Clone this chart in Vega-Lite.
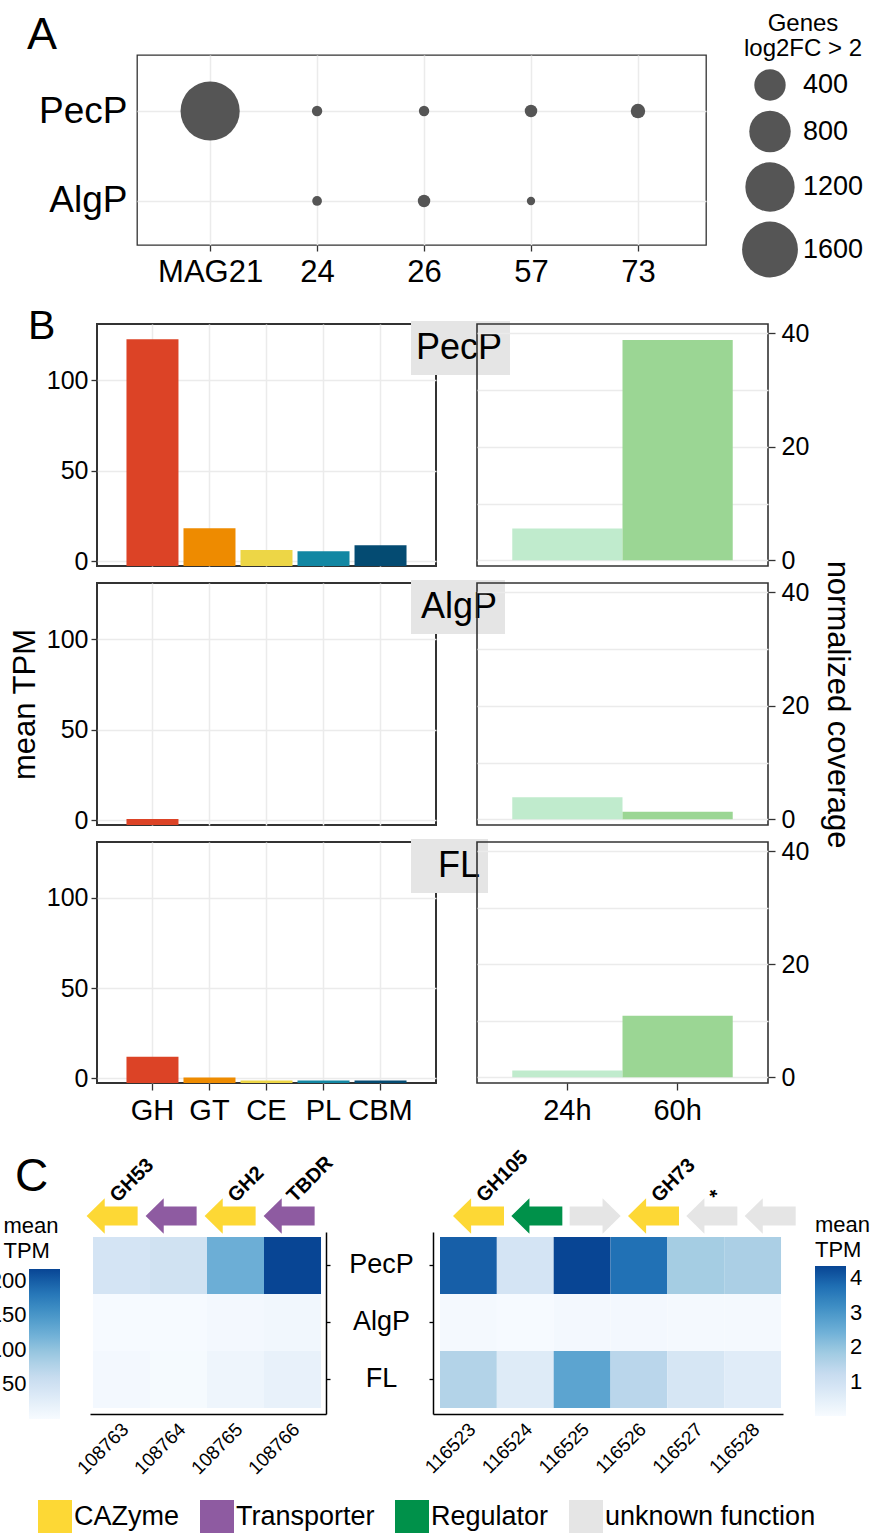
{
 "$schema": "https://vega.github.io/schema/vega-lite/v6.json",
 "padding": {"left": -13, "top": 5, "right": 0, "bottom": 0},
 "background": "white",
 "config": {
  "font": "Liberation Sans",
  "view": {"stroke": null},
  "axis": {"labelFont": "Liberation Sans", "titleFont": "Liberation Sans", "labelColor": "#000000", "titleColor": "#000000", "gridColor": "#EBEBEB", "gridWidth": 1.5, "tickColor": "#333333", "tickWidth": 1.3, "domainColor": "#000000", "titleFontWeight": "normal"},
  "legend": {"labelFont": "Liberation Sans", "titleFont": "Liberation Sans", "labelColor": "#000000", "titleColor": "#000000"},
  "title": {"font": "Liberation Sans", "color": "#000000", "fontWeight": "normal"},
  "text": {"font": "Liberation Sans"}
 },
 "datasets": {
  "bubbles": [
   {"mag": "MAG21", "substrate": "PecP", "genes": 1830},
   {"mag": "24", "substrate": "PecP", "genes": 33},
   {"mag": "26", "substrate": "PecP", "genes": 33},
   {"mag": "57", "substrate": "PecP", "genes": 42},
   {"mag": "73", "substrate": "PecP", "genes": 56},
   {"mag": "24", "substrate": "AlgP", "genes": 32},
   {"mag": "26", "substrate": "AlgP", "genes": 42},
   {"mag": "57", "substrate": "AlgP", "genes": 30}
  ],
  "tpm": [
   {"substrate": "PecP", "class": "GH", "tpm": 122.6},
   {"substrate": "PecP", "class": "GT", "tpm": 18.2},
   {"substrate": "PecP", "class": "CE", "tpm": 6.1},
   {"substrate": "PecP", "class": "PL", "tpm": 5.5},
   {"substrate": "PecP", "class": "CBM", "tpm": 8.8},
   {"substrate": "AlgP", "class": "GH", "tpm": 0.6},
   {"substrate": "FL", "class": "GH", "tpm": 11.8},
   {"substrate": "FL", "class": "GT", "tpm": 0.3},
   {"substrate": "FL", "class": "CE", "tpm": -1.3},
   {"substrate": "FL", "class": "PL", "tpm": -1.3},
   {"substrate": "FL", "class": "CBM", "tpm": -1.3}
  ],
  "cov": [
   {"substrate": "PecP", "time": "24h", "cov": 5.6},
   {"substrate": "PecP", "time": "60h", "cov": 38.8},
   {"substrate": "AlgP", "time": "24h", "cov": 3.9},
   {"substrate": "AlgP", "time": "60h", "cov": 1.35},
   {"substrate": "FL", "time": "24h", "cov": 1.2},
   {"substrate": "FL", "time": "60h", "cov": 10.9}
  ],
  "heat": [
   {"block": "L", "gene": "108763", "condition": "PecP", "tpm": 44},
   {"block": "L", "gene": "108764", "condition": "PecP", "tpm": 49},
   {"block": "L", "gene": "108765", "condition": "PecP", "tpm": 123},
   {"block": "L", "gene": "108766", "condition": "PecP", "tpm": 216},
   {"block": "L", "gene": "108763", "condition": "AlgP", "tpm": 1.3},
   {"block": "L", "gene": "108764", "condition": "AlgP", "tpm": 1.3},
   {"block": "L", "gene": "108765", "condition": "AlgP", "tpm": 5},
   {"block": "L", "gene": "108766", "condition": "AlgP", "tpm": 7.3},
   {"block": "L", "gene": "108763", "condition": "FL", "tpm": 5},
   {"block": "L", "gene": "108764", "condition": "FL", "tpm": 2.4},
   {"block": "L", "gene": "108765", "condition": "FL", "tpm": 11},
   {"block": "L", "gene": "108766", "condition": "FL", "tpm": 18.6},
   {"block": "R", "gene": "116523", "condition": "PecP", "tpm": 3.99},
   {"block": "R", "gene": "116524", "condition": "PecP", "tpm": 0.89},
   {"block": "R", "gene": "116525", "condition": "PecP", "tpm": 4.36},
   {"block": "R", "gene": "116526", "condition": "PecP", "tpm": 3.74},
   {"block": "R", "gene": "116527", "condition": "PecP", "tpm": 1.76},
   {"block": "R", "gene": "116528", "condition": "PecP", "tpm": 1.67},
   {"block": "R", "gene": "116523", "condition": "AlgP", "tpm": 0.07},
   {"block": "R", "gene": "116524", "condition": "AlgP", "tpm": 0.03},
   {"block": "R", "gene": "116525", "condition": "AlgP", "tpm": 0.1},
   {"block": "R", "gene": "116526", "condition": "AlgP", "tpm": 0.1},
   {"block": "R", "gene": "116527", "condition": "AlgP", "tpm": 0.07},
   {"block": "R", "gene": "116528", "condition": "AlgP", "tpm": 0.07},
   {"block": "R", "gene": "116523", "condition": "FL", "tpm": 1.54},
   {"block": "R", "gene": "116524", "condition": "FL", "tpm": 0.62},
   {"block": "R", "gene": "116525", "condition": "FL", "tpm": 2.72},
   {"block": "R", "gene": "116526", "condition": "FL", "tpm": 1.43},
   {"block": "R", "gene": "116527", "condition": "FL", "tpm": 0.83},
   {"block": "R", "gene": "116528", "condition": "FL", "tpm": 0.57}
  ],
  "genes": [
   {"block": "L", "gene": "108763", "func": "CAZyme", "strand": "-", "label": "GH53"},
   {"block": "L", "gene": "108764", "func": "Transporter", "strand": "-", "label": ""},
   {"block": "L", "gene": "108765", "func": "CAZyme", "strand": "-", "label": "GH2"},
   {"block": "L", "gene": "108766", "func": "Transporter", "strand": "-", "label": "TBDR"},
   {"block": "R", "gene": "116523", "func": "CAZyme", "strand": "-", "label": "GH105"},
   {"block": "R", "gene": "116524", "func": "Regulator", "strand": "-", "label": ""},
   {"block": "R", "gene": "116525", "func": "unknown function", "strand": "+", "label": ""},
   {"block": "R", "gene": "116526", "func": "CAZyme", "strand": "-", "label": "GH73"},
   {"block": "R", "gene": "116527", "func": "unknown function", "strand": "-", "label": "*"},
   {"block": "R", "gene": "116528", "func": "unknown function", "strand": "-", "label": ""}
  ]
 },
 "spacing": 0,
 "resolve": {
  "scale": {"x": "independent", "y": "independent", "color": "independent", "opacity": "independent", "size": "independent", "shape": "independent"},
  "legend": {"color": "independent", "opacity": "independent", "size": "independent", "shape": "independent"}
 },
 "vconcat": [
  {
   "columns": 2, "spacing": 0, "bounds": "flush",
   "resolve": {
    "scale": {"x": "independent", "y": "independent", "color": "independent", "opacity": "independent", "size": "independent", "shape": "independent"},
    "legend": {"color": "independent", "opacity": "independent", "size": "independent", "shape": "independent"}
   },
   "concat": [
    {"width": 150, "height": 50, "data": {"values": []}, "mark": "point"},
    {"width": 1, "height": 1, "data": {"values": []}, "mark": "point"},
    {"width": 150, "height": 240, "data": {"values": []}, "mark": "point",
     "title": {"text": "A", "anchor": "start", "frame": "group", "dx": 40, "offset": -39, "baseline": "alphabetic", "fontSize": 45}},
    {
     "width": 569, "height": 190,
     "view": {"stroke": "#333333", "strokeWidth": 1.3},
     "data": {"name": "bubbles"},
     "mark": {"type": "circle", "opacity": 1, "color": "#555555"},
     "encoding": {
      "x": {"field": "mag", "type": "nominal", "scale": {"type": "point", "domain": ["MAG21", "24", "26", "57", "73"], "padding": 0.66, "align": 0.518},
            "axis": {"title": null, "labelFontSize": 31, "tickSize": 6, "labelPadding": 6, "grid": true, "domain": false, "labelAngle": 0}},
      "y": {"field": "substrate", "type": "nominal", "scale": {"type": "point", "domain": ["PecP", "AlgP"], "padding": 0.556, "align": 0.56},
            "axis": {"title": null, "labelFontSize": 37, "ticks": false, "labelPadding": 10, "grid": true, "domain": false}},
      "size": {"field": "genes", "type": "quantitative",
               "scale": {"zero": false, "nice": false, "domain": [30, 33, 42, 56, 100, 200, 400, 800, 1200, 1600, 1830], "range": [69, 108, 156, 209, 337, 573, 984, 1720, 2428, 3117, 3505]},
               "legend": {"title": ["Genes", "log2FC > 2"], "orient": "none", "legendX": 605, "legendY": -43, "values": [400, 800, 1200, 1600], "format": "d",
                          "titleFontSize": 24, "titleFontWeight": "normal", "titleLineHeight": 25, "titleAnchor": "middle", "titleAlign": "center", "titlePadding": 8,
                          "labelFontSize": 27, "labelOffset": 5, "rowPadding": 9.5, "symbolFillColor": "#555555", "symbolStrokeWidth": 0, "symbolOpacity": 1, "padding": 0}}
     }
    }
   ]
  },
  {
   "columns": 4, "spacing": {"row": 17, "column": 0}, "bounds": "flush",
   "resolve": {
    "scale": {"x": "independent", "y": "independent", "color": "independent", "opacity": "independent", "size": "independent", "shape": "independent"},
    "legend": {"color": "independent", "opacity": "independent", "size": "independent", "shape": "independent"}
   },
   "concat": [
    {"width": 1, "height": 12, "data": {"values": []}, "mark": "point"},
    {"width": 1, "height": 1, "data": {"values": []}, "mark": "point"},
    {"width": 1, "height": 1, "data": {"values": []}, "mark": "point"},
    {"width": 1, "height": 1, "data": {"values": []}, "mark": "point"},

    {"width": 110, "height": 1, "data": {"values": []}, "mark": "point",
     "title": {"text": "B", "anchor": "start", "frame": "group", "dx": 41, "offset": -56, "baseline": "alphabetic", "fontSize": 41}},
    {
     "width": 339, "height": 242,
     "view": {"stroke": "#333333", "strokeWidth": 2},
     "data": {"name": "tpm"},
     "transform": [{"filter": "datum.substrate === 'PecP'"}],
     "mark": {"type": "bar"},
     "encoding": {
      "x": {"field": "class", "type": "nominal", "scale": {"domain": ["GH", "GT", "CE", "PL", "CBM"], "paddingInner": 0.088, "paddingOuter": 0.517},
            "axis": {"title": null, "labels": false, "ticks": false, "domain": false, "grid": true}},
      "y": {"field": "tpm", "type": "quantitative", "scale": {"domain": [-2.7, 131], "nice": false, "zero": false},
            "axis": {"title": null, "values": [0, 50, 100], "labelFontSize": 25, "tickSize": 6, "labelPadding": 3, "domain": false, "grid": true}},
      "y2": {"datum": -2.7},
      "color": {"field": "class", "type": "nominal", "scale": {"domain": ["GH", "GT", "CE", "PL", "CBM"], "range": ["#DC4326", "#EE8B00", "#EDD646", "#1287A3", "#044B72"]}, "legend": null},
      "opacity": {"field": "substrate", "type": "nominal", "scale": {"range": [1]},
                  "legend": {"title": null, "orient": "none", "legendX": 314, "legendY": -3, "fillColor": "#E5E5E5", "padding": 7,
                             "symbolType": "M-1,-0.488L1,-0.488L1,0.488L-1,0.488Z", "symbolSize": 6724, "symbolFillColor": "#E5E5E5", "symbolStrokeColor": "#E5E5E5", "symbolStrokeWidth": 0,
                             "clipHeight": 40, "labelFontSize": 36, "labelAlign": "center", "labelOffset": -41, "labelLimit": 300}}
     }
    },
    {"width": 41, "height": 1, "data": {"values": []}, "mark": "point"},
    {
     "width": 291, "height": 242,
     "view": {"stroke": "#333333", "strokeWidth": 1.6},
     "data": {"name": "cov"},
     "transform": [{"filter": "datum.substrate === 'PecP'"}],
     "mark": {"type": "bar"},
     "encoding": {
      "x": {"field": "time", "type": "nominal", "scale": {"domain": ["24h", "60h"], "paddingInner": 0, "paddingOuter": 0.32},
            "axis": {"title": null, "labels": false, "ticks": false, "domain": false, "grid": false}},
      "y": {"field": "cov", "type": "quantitative", "scale": {"domain": [-1, 41.6], "nice": false, "zero": false},
            "axis": {"orient": "right", "title": null, "values": [0, 10, 20, 30, 40], "labelExpr": "datum.value % 20 === 0 ? datum.label : ''",
                     "tickOpacity": {"condition": {"test": "datum.value % 20 !== 0", "value": 0}, "value": 1},
                     "labelFontSize": 25, "tickSize": 7, "labelPadding": 6, "domain": false, "grid": true}},
      "y2": {"datum": 0},
      "color": {"field": "time", "type": "nominal", "scale": {"domain": ["24h", "60h"], "range": ["#C0EBCD", "#9BD694"]}, "legend": null}
     }
    },

    {"width": 110, "height": 1, "data": {"values": []}, "mark": "point"},
    {
     "width": 339, "height": 242,
     "view": {"stroke": "#333333", "strokeWidth": 2},
     "data": {"name": "tpm"},
     "transform": [{"filter": "datum.substrate === 'AlgP'"}],
     "mark": {"type": "bar"},
     "encoding": {
      "x": {"field": "class", "type": "nominal", "scale": {"domain": ["GH", "GT", "CE", "PL", "CBM"], "paddingInner": 0.088, "paddingOuter": 0.517},
            "axis": {"title": null, "labels": false, "ticks": false, "domain": false, "grid": true}},
      "y": {"field": "tpm", "type": "quantitative", "scale": {"domain": [-2.7, 131], "nice": false, "zero": false},
            "axis": {"title": "mean TPM", "titleFontSize": 31, "titlePadding": 5, "values": [0, 50, 100], "labelFontSize": 25, "tickSize": 6, "labelPadding": 3, "domain": false, "grid": true}},
      "y2": {"datum": -2.7},
      "color": {"field": "class", "type": "nominal", "scale": {"domain": ["GH", "GT", "CE", "PL", "CBM"], "range": ["#DC4326", "#EE8B00", "#EDD646", "#1287A3", "#044B72"]}, "legend": null},
      "opacity": {"field": "substrate", "type": "nominal", "scale": {"range": [1]},
                  "legend": {"title": null, "orient": "none", "legendX": 314, "legendY": -3, "fillColor": "#E5E5E5", "padding": 7,
                             "symbolType": "M-1,-0.488L1,-0.488L1,0.488L-1,0.488Z", "symbolSize": 6724, "symbolFillColor": "#E5E5E5", "symbolStrokeColor": "#E5E5E5", "symbolStrokeWidth": 0,
                             "clipHeight": 40, "labelFontSize": 36, "labelAlign": "center", "labelOffset": -41, "labelLimit": 300}}
     }
    },
    {"width": 41, "height": 1, "data": {"values": []}, "mark": "point"},
    {
     "width": 291, "height": 242,
     "view": {"stroke": "#333333", "strokeWidth": 1.6},
     "data": {"name": "cov"},
     "transform": [{"filter": "datum.substrate === 'AlgP'"}],
     "mark": {"type": "bar"},
     "encoding": {
      "x": {"field": "time", "type": "nominal", "scale": {"domain": ["24h", "60h"], "paddingInner": 0, "paddingOuter": 0.32},
            "axis": {"title": null, "labels": false, "ticks": false, "domain": false, "grid": false}},
      "y": {"field": "cov", "type": "quantitative", "scale": {"domain": [-1, 41.6], "nice": false, "zero": false},
            "axis": {"orient": "right", "title": "normalized coverage", "titleFontSize": 31, "titleAngle": 90, "titlePadding": 12,
                     "values": [0, 10, 20, 30, 40], "labelExpr": "datum.value % 20 === 0 ? datum.label : ''",
                     "tickOpacity": {"condition": {"test": "datum.value % 20 !== 0", "value": 0}, "value": 1},
                     "labelFontSize": 25, "tickSize": 7, "labelPadding": 6, "domain": false, "grid": true}},
      "y2": {"datum": 0},
      "color": {"field": "time", "type": "nominal", "scale": {"domain": ["24h", "60h"], "range": ["#C0EBCD", "#9BD694"]}, "legend": null}
     }
    },

    {"width": 110, "height": 1, "data": {"values": []}, "mark": "point"},
    {
     "width": 339, "height": 241,
     "view": {"stroke": "#333333", "strokeWidth": 2},
     "data": {"name": "tpm"},
     "transform": [{"filter": "datum.substrate === 'FL'"}],
     "mark": {"type": "bar"},
     "encoding": {
      "x": {"field": "class", "type": "nominal", "scale": {"domain": ["GH", "GT", "CE", "PL", "CBM"], "paddingInner": 0.088, "paddingOuter": 0.517},
            "axis": {"title": null, "labelFontSize": 29, "tickSize": 7, "labelPadding": 6, "domain": false, "grid": true, "labelAngle": 0}},
      "y": {"field": "tpm", "type": "quantitative", "scale": {"domain": [-2.7, 131], "nice": false, "zero": false},
            "axis": {"title": null, "values": [0, 50, 100], "labelFontSize": 25, "tickSize": 6, "labelPadding": 3, "domain": false, "grid": true}},
      "y2": {"datum": -2.7},
      "color": {"field": "class", "type": "nominal", "scale": {"domain": ["GH", "GT", "CE", "PL", "CBM"], "range": ["#DC4326", "#EE8B00", "#EDD646", "#1287A3", "#044B72"]}, "legend": null},
      "opacity": {"field": "substrate", "type": "nominal", "scale": {"range": [1]},
                  "legend": {"title": null, "orient": "none", "legendX": 314, "legendY": -3, "fillColor": "#E5E5E5", "padding": 7,
                             "symbolType": "M-1,-0.488L1,-0.488L1,0.488L-1,0.488Z", "symbolSize": 6724, "symbolFillColor": "#E5E5E5", "symbolStrokeColor": "#E5E5E5", "symbolStrokeWidth": 0,
                             "clipHeight": 40, "labelFontSize": 36, "labelAlign": "center", "labelOffset": -41, "labelLimit": 300}}
     }
    },
    {"width": 41, "height": 1, "data": {"values": []}, "mark": "point"},
    {
     "width": 291, "height": 241,
     "view": {"stroke": "#333333", "strokeWidth": 1.6},
     "data": {"name": "cov"},
     "transform": [{"filter": "datum.substrate === 'FL'"}],
     "mark": {"type": "bar"},
     "encoding": {
      "x": {"field": "time", "type": "nominal", "scale": {"domain": ["24h", "60h"], "paddingInner": 0, "paddingOuter": 0.32},
            "axis": {"title": null, "labelFontSize": 29, "tickSize": 7, "labelPadding": 6, "domain": false, "grid": false, "labelAngle": 0}},
      "y": {"field": "cov", "type": "quantitative", "scale": {"domain": [-1, 41.6], "nice": false, "zero": false},
            "axis": {"orient": "right", "title": null, "values": [0, 10, 20, 30, 40], "labelExpr": "datum.value % 20 === 0 ? datum.label : ''",
                     "tickOpacity": {"condition": {"test": "datum.value % 20 !== 0", "value": 0}, "value": 1},
                     "labelFontSize": 25, "tickSize": 7, "labelPadding": 6, "domain": false, "grid": true}},
      "y2": {"datum": 0},
      "color": {"field": "time", "type": "nominal", "scale": {"domain": ["24h", "60h"], "range": ["#C0EBCD", "#9BD694"]}, "legend": null}
     }
    },

    {"width": 1, "height": 35, "data": {"values": []}, "mark": "point"},
    {"width": 1, "height": 1, "data": {"values": []}, "mark": "point"},
    {"width": 1, "height": 1, "data": {"values": []}, "mark": "point"},
    {"width": 1, "height": 1, "data": {"values": []}, "mark": "point"}
   ]
  },
  {
   "columns": 6, "spacing": 0, "bounds": "flush",
   "resolve": {
    "scale": {"x": "independent", "y": "independent", "color": "independent", "opacity": "independent", "size": "independent", "shape": "independent"},
    "legend": {"color": "independent", "opacity": "independent", "size": "independent", "shape": "independent"}
   },
   "concat": [
    {"width": 42, "height": 65, "data": {"values": []}, "mark": "point"},
    {"width": 1, "height": 1, "data": {"values": []}, "mark": "point"},
    {"width": 1, "height": 1, "data": {"values": []}, "mark": "point"},
    {"width": 1, "height": 1, "data": {"values": []}, "mark": "point"},
    {"width": 1, "height": 1, "data": {"values": []}, "mark": "point"},
    {"width": 1, "height": 1, "data": {"values": []}, "mark": "point"},

    {"width": 42, "height": 1, "data": {"values": []}, "mark": "point",
     "title": {"text": "C", "anchor": "start", "frame": "group", "dx": 28, "offset": -37, "baseline": "alphabetic", "fontSize": 46}},
    {"width": 31, "height": 1, "data": {"values": []}, "mark": "point"},
    {"width": 30, "height": 1, "data": {"values": []}, "mark": "point"},
    {
     "width": 236, "height": 32,
     "data": {"name": "genes"},
     "transform": [{"filter": "datum.block === 'L'"}],
     "layer": [
      {
       "mark": {"type": "point", "filled": true, "opacity": 1, "size": 2601, "strokeWidth": 0},
       "encoding": {
        "x": {"field": "gene", "type": "nominal", "scale": {"domain": ["108763", "108764", "108765", "108766"], "paddingInner": 0, "paddingOuter": 0.07, "align": 0.375}, "axis": null},
        "shape": {"field": "strand", "type": "nominal", "scale": {"domain": ["-", "+"], "range": ["M-1,0L-0.29,-0.7L-0.29,-0.37L1,-0.37L1,0.37L-0.29,0.37L-0.29,0.7Z", "M1,0L0.29,-0.7L0.29,-0.37L-1,-0.37L-1,0.37L0.29,0.37L0.29,0.7Z"]}, "legend": null},
        "color": {"field": "func", "type": "nominal", "scale": {"domain": ["CAZyme", "Transporter", "Regulator", "unknown function"], "range": ["#FDD835", "#8E5BA1", "#00914A", "#E5E5E5"]},
                  "legend": {"orient": "none", "legendX": -52, "legendY": 300, "direction": "horizontal", "columns": 4, "title": null, "symbolType": "square", "symbolSize": 1156, "symbolStrokeWidth": 0, "labelFontSize": 27, "labelOffset": 2, "columnPadding": 20, "padding": 0, "labelLimit": 400}}
       }
      },
      {
       "transform": [{"filter": "datum.label !== ''"}],
       "mark": {"type": "text", "angle": 315, "align": "left", "baseline": "alphabetic", "dx": 13, "dy": -5, "fontSize": 20, "fontWeight": "bold", "color": "#000000"},
       "encoding": {
        "x": {"field": "gene", "type": "nominal", "scale": {"domain": ["108763", "108764", "108765", "108766"], "paddingInner": 0, "paddingOuter": 0.07, "align": 0.375}, "axis": null},
        "text": {"field": "label"}
       }
      }
     ]
    },
    {"width": 107, "height": 1, "data": {"values": []}, "mark": "point"},
    {
     "width": 350, "height": 32,
     "data": {"name": "genes"},
     "transform": [{"filter": "datum.block === 'R'"}],
     "layer": [
      {
       "mark": {"type": "point", "filled": true, "opacity": 1, "size": 2601, "strokeWidth": 0},
       "encoding": {
        "x": {"field": "gene", "type": "nominal", "scale": {"domain": ["116523", "116524", "116525", "116526", "116527", "116528"], "paddingInner": 0, "paddingOuter": 0.079, "align": 0.78}, "axis": null},
        "shape": {"field": "strand", "type": "nominal", "scale": {"domain": ["-", "+"], "range": ["M-1,0L-0.29,-0.7L-0.29,-0.37L1,-0.37L1,0.37L-0.29,0.37L-0.29,0.7Z", "M1,0L0.29,-0.7L0.29,-0.37L-1,-0.37L-1,0.37L0.29,0.37L0.29,0.7Z"]}, "legend": null},
        "color": {"field": "func", "type": "nominal", "scale": {"domain": ["CAZyme", "Transporter", "Regulator", "unknown function"], "range": ["#FDD835", "#8E5BA1", "#00914A", "#E5E5E5"]}, "legend": null}
       }
      },
      {
       "transform": [{"filter": "datum.label !== ''"}],
       "mark": {"type": "text", "angle": 315, "align": "left", "baseline": "alphabetic", "dx": 13, "dy": -5, "fontSize": 20, "fontWeight": "bold", "color": "#000000"},
       "encoding": {
        "x": {"field": "gene", "type": "nominal", "scale": {"domain": ["116523", "116524", "116525", "116526", "116527", "116528"], "paddingInner": 0, "paddingOuter": 0.079, "align": 0.78}, "axis": null},
        "text": {"field": "label"}
       }
      }
     ]
    },

    {"width": 42, "height": 1, "data": {"values": []}, "mark": "point"},
    {
     "width": 31, "height": 186,
     "data": {"values": []},
     "mark": "point",
     "encoding": {
      "y": {"field": "tpm", "type": "quantitative", "scale": {"domain": [0, 269.6], "nice": false, "zero": false},
            "axis": {"orient": "left", "values": [50, 100, 150, 200], "labelFontSize": 22, "ticks": false, "domain": false, "grid": false, "labelPadding": 3,
                     "title": ["mean", "TPM"], "titleAngle": 0, "titleAlign": "left", "titleBaseline": "alphabetic", "titleX": -26, "titleY": 0, "titleFontSize": 22, "titleLineHeight": 25, "titleFontWeight": "normal"}}
     }
    },
    {"width": 30, "height": 1, "data": {"values": []}, "mark": "point"},
    {
     "width": 236, "height": 182,
     "data": {"name": "heat"},
     "transform": [{"filter": "datum.block === 'L'"}],
     "mark": {"type": "rect"},
     "encoding": {
      "x": {"field": "gene", "type": "nominal", "scale": {"domain": ["108763", "108764", "108765", "108766"], "paddingInner": 0, "paddingOuter": 0.07, "align": 0.375},
            "axis": {"orient": "bottom", "title": null, "labelAngle": -45, "labelAlign": "right", "labelBaseline": "middle", "labelFontSize": 19, "ticks": false, "labelPadding": 12, "labelOffset": 4, "domain": true, "domainWidth": 1.5, "grid": false}},
      "y": {"field": "condition", "type": "nominal", "scale": {"domain": ["PecP", "AlgP", "FL"], "paddingInner": 0, "paddingOuter": 0.0965, "align": 0.45},
            "axis": {"orient": "right", "title": null, "labelFontSize": 27, "labelAlign": "center", "labelPadding": 51, "tickSize": 4, "tickColor": "#000000", "domain": true, "domainWidth": 1.5, "grid": false}},
      "color": {"field": "tpm", "type": "quantitative",
                "scale": {"domain": [0, 216], "interpolate": "rgb", "range": ["#f7fbff", "#deebf7", "#c6dbef", "#9ecae1", "#6baed6", "#4292c6", "#2171b5", "#084594"]},
                "legend": {"orient": "none", "legendX": -61, "legendY": 37, "direction": "vertical", "title": null, "labelOpacity": 0, "labelFontSize": 1,
                           "gradientLength": 150, "gradientThickness": 31, "gradientStrokeWidth": 0, "padding": 0}}
     }
    },
    {"width": 107, "height": 1, "data": {"values": []}, "mark": "point"},
    {
     "width": 350, "height": 182,
     "data": {"name": "heat"},
     "transform": [{"filter": "datum.block === 'R'"}],
     "mark": {"type": "rect"},
     "encoding": {
      "x": {"field": "gene", "type": "nominal", "scale": {"domain": ["116523", "116524", "116525", "116526", "116527", "116528"], "paddingInner": 0, "paddingOuter": 0.079, "align": 0.78},
            "axis": {"orient": "bottom", "title": null, "labelAngle": -45, "labelAlign": "right", "labelBaseline": "middle", "labelFontSize": 19, "ticks": false, "labelPadding": 12, "labelOffset": 4, "domain": true, "domainWidth": 1.5, "grid": false}},
      "y": {"field": "condition", "type": "nominal", "scale": {"domain": ["PecP", "AlgP", "FL"], "paddingInner": 0, "paddingOuter": 0.0965, "align": 0.45},
            "axis": {"orient": "left", "title": null, "labels": false, "tickSize": 4, "tickColor": "#000000", "domain": true, "domainWidth": 1.5, "grid": false}},
      "color": {"field": "tpm", "type": "quantitative",
                "scale": {"domain": [0, 4.36], "interpolate": "rgb", "range": ["#f7fbff", "#deebf7", "#c6dbef", "#9ecae1", "#6baed6", "#4292c6", "#2171b5", "#084594"]},
                "legend": {"orient": "none", "legendX": 382, "legendY": -17, "direction": "vertical", "title": ["mean", "TPM"], "titleFontSize": 22, "titleFontWeight": "normal", "titleLineHeight": 25,
                           "titleAnchor": "start", "titleAlign": "left", "titlePadding": 4, "gradientLength": 150, "gradientThickness": 31, "gradientStrokeWidth": 0,
                           "values": [1, 2, 3, 4], "labelFontSize": 22, "labelOffset": 4, "labelOverlap": false, "padding": 0}}
     }
    }
   ]
  }
 ]
}
